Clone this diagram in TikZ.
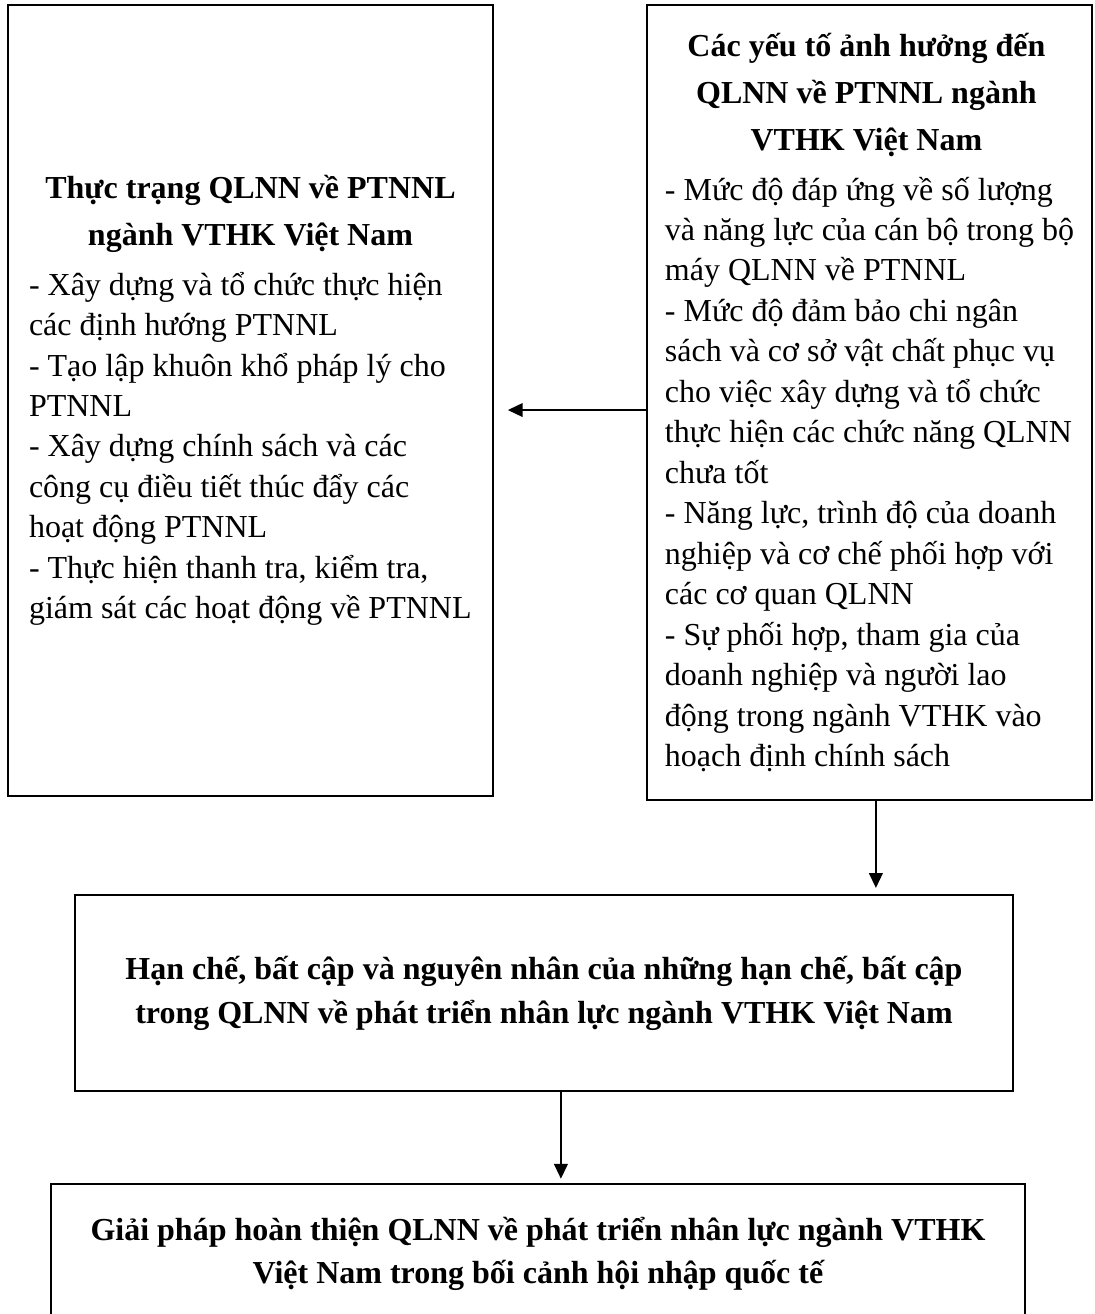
\documentclass[tikz,border=0pt]{standalone}
\usepackage{fontspec}
\setmainfont{Liberation Serif}
\usetikzlibrary{arrows.meta}

\newcommand{\tieude}[2]{\makebox[#1]{\bfseries #2}}

\begin{document}
\begin{tikzpicture}[x=0.4375pt,y=-0.4375pt,
    font=\fontsize{14pt}{17.7pt}\selectfont,
    box/.style={draw,rectangle,line width=1pt,inner sep=0pt},
    arr/.style={-{Triangle[length=6.5pt,width=6pt]},line width=0.8pt}]

\clip (0,0) rectangle (1094,1314);

% Left block
\node[box,
    minimum width=212.2pt,
    minimum height=346.1pt,
    align=left] (thuctrang) at (250.5,400.5) {%
    \tieude{193.8pt}{Thực trạng QLNN về PTNNL}\\[2.9pt]
    \tieude{193.8pt}{ngành VTHK Việt Nam}\\[3.9pt]
    - Xây dựng và tổ chức thực hiện\\
    các định hướng PTNNL\\
    - Tạo lập khuôn khổ pháp lý cho\\
    PTNNL\\
    - Xây dựng chính sách và các\\
    công cụ điều tiết thúc đẩy các\\
    hoạt động PTNNL\\
    - Thực hiện thanh tra, kiểm tra,\\
    giám sát các hoạt động về PTNNL};

% Right block
\node[box,
    minimum width=194.7pt,
    minimum height=347.8pt,
    align=left] (yeuto) at (869.5,402.5) {%
    \tieude{176.3pt}{Các yếu tố ảnh hưởng đến}\\[2.9pt]
    \tieude{176.3pt}{QLNN về PTNNL ngành}\\[2.9pt]
    \tieude{176.3pt}{VTHK Việt Nam}\\[3.9pt]
    - Mức độ đáp ứng về số lượng\\
    và năng lực của cán bộ trong bộ\\
    máy QLNN về PTNNL\\
    - Mức độ đảm bảo chi ngân\\
    sách và cơ sở vật chất phục vụ\\
    cho việc xây dựng và tổ chức\\
    thực hiện các chức năng QLNN\\
    chưa tốt\\
    - Năng lực, trình độ của doanh\\
    nghiệp và cơ chế phối hợp với\\
    các cơ quan QLNN\\
    - Sự phối hợp, tham gia của\\
    doanh nghiệp và người lao\\
    động trong ngành VTHK vào\\
    hoạch định chính sách};

% Middle block
\node[box,
    minimum width=410.4pt,
    minimum height=85.75pt,
    font=\fontsize{14pt}{19.2pt}\selectfont\bfseries,
    align=center] (hanche) at (544,993) {Hạn chế, bất cập và nguyên nhân của những hạn chế, bất cập\\
    trong QLNN về phát triển nhân lực ngành VTHK Việt Nam};

% Bottom block
\node[box,
    minimum width=426.1pt,
    minimum height=61.25pt,
    font=\fontsize{14pt}{19pt}\selectfont\bfseries,
    align=center] (giaiphap) at (538,1254) {Giải pháp hoàn thiện QLNN về phát triển nhân lực ngành VTHK\\
    Việt Nam trong bối cảnh hội nhập quốc tế};

% Arrows
\coordinate (yeutoleft) at ([yshift=-3.3pt]yeuto.west);
\draw[arr] (yeutoleft) -- ([xshift=6pt]thuctrang.east |- yeutoleft);
\draw[arr,shorten >=2.6pt] ([xshift=2.8pt]yeuto.south) -- ([xshift=2.8pt]yeuto.south |- hanche.north);
\draw[arr,shorten >=1.8pt] ([xshift=7.4pt]hanche.south) -- ([xshift=7.4pt]hanche.south |- giaiphap.north);

\end{tikzpicture}
\end{document}
